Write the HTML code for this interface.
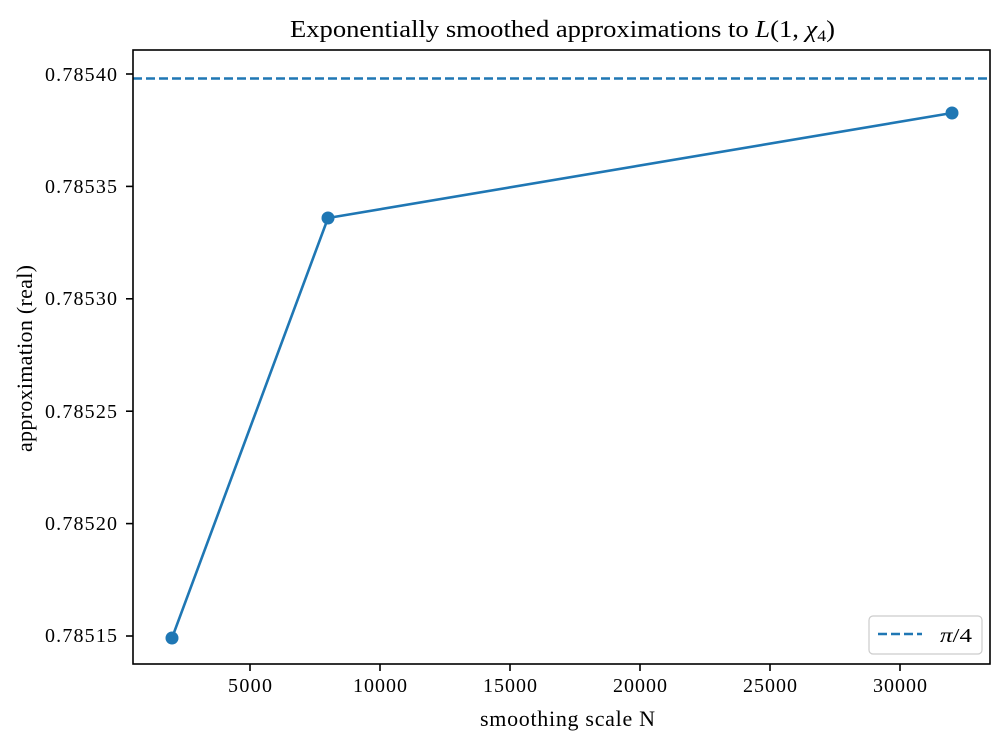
<!DOCTYPE html>
<html><head><style>body{margin:0;background:#fff}</style></head><body>
<svg width="1006" height="746" xmlns="http://www.w3.org/2000/svg" font-family="Liberation Serif, serif" font-size="20">
<rect width="1006" height="746" fill="#fff"/>
<text x="290" y="37" font-size="24" textLength="545" lengthAdjust="spacingAndGlyphs">Exponentially smoothed approximations to <tspan font-style="italic">L</tspan>(1, <tspan font-style="italic">χ</tspan><tspan font-size="16" dy="4">4</tspan><tspan dy="-4">)</tspan></text>
<line x1="133" y1="78.5" x2="990" y2="78.5" stroke="#1f77b4" stroke-width="2.4" stroke-dasharray="9,4"/>
<polyline points="172,638 328,218 952,113" fill="none" stroke="#1f77b4" stroke-width="2.6"/>
<circle cx="172" cy="638" r="6.5" fill="#1f77b4"/><circle cx="328" cy="218" r="6.5" fill="#1f77b4"/><circle cx="952" cy="113" r="6.5" fill="#1f77b4"/>
<rect x="133" y="50" width="857" height="614" fill="none" stroke="#000" stroke-width="1.6"/>
<g stroke="#000" stroke-width="1.6">
<line x1="126" y1="74" x2="133" y2="74"/><line x1="126" y1="186.4" x2="133" y2="186.4"/><line x1="126" y1="298.8" x2="133" y2="298.8"/><line x1="126" y1="411.2" x2="133" y2="411.2"/><line x1="126" y1="523.6" x2="133" y2="523.6"/><line x1="126" y1="636" x2="133" y2="636"/>
<line x1="250" y1="664" x2="250" y2="671"/><line x1="380" y1="664" x2="380" y2="671"/><line x1="510" y1="664" x2="510" y2="671"/><line x1="640" y1="664" x2="640" y2="671"/><line x1="770" y1="664" x2="770" y2="671"/><line x1="900" y1="664" x2="900" y2="671"/>
</g>
<g lengthAdjust="spacingAndGlyphs">
<text x="45" y="81" textLength="72">0.78540</text><text x="45" y="193" textLength="72">0.78535</text><text x="45" y="305" textLength="72">0.78530</text><text x="45" y="418" textLength="72">0.78525</text><text x="45" y="530" textLength="72">0.78520</text><text x="45" y="642" textLength="72">0.78515</text>
<text x="228" y="692" textLength="44">5000</text><text x="353" y="692" textLength="54">10000</text><text x="483" y="692" textLength="54">15000</text><text x="613" y="692" textLength="54">20000</text><text x="743" y="692" textLength="54">25000</text><text x="873" y="692" textLength="54">30000</text>
<text x="480" y="726" font-size="22" textLength="175">smoothing scale N</text>
<text transform="translate(32,452) rotate(-90)" font-size="22" textLength="187">approximation (real)</text>
</g>
<rect x="869" y="616" width="113" height="38" rx="4" fill="#fff" stroke="#ccc" stroke-width="1.2"/>
<line x1="878" y1="634" x2="922" y2="634" stroke="#1f77b4" stroke-width="2.4" stroke-dasharray="9,4"/>
<text x="940" y="642" textLength="32" lengthAdjust="spacingAndGlyphs"><tspan font-style="italic">π</tspan>/4</text>
</svg>
</body></html>
